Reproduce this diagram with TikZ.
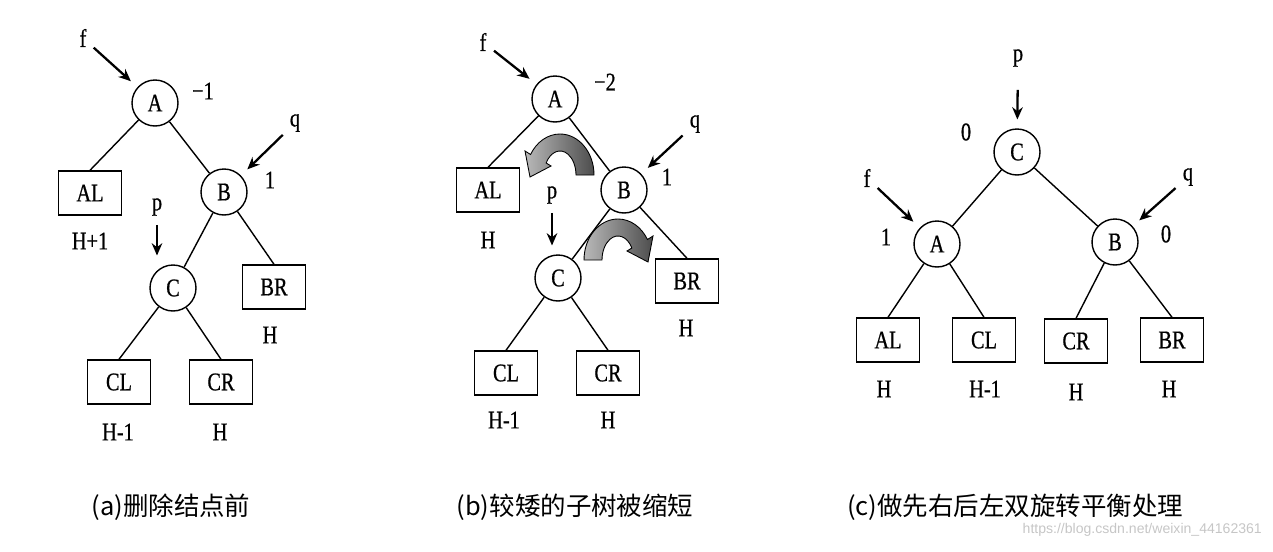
\documentclass[tikz,border=0pt]{standalone}
\usepackage{fontspec}
\setmainfont{Liberation Serif}[FakeStretch=0.8, FakeBold=0.6]
\newfontfamily\cjk{Noto Sans CJK SC}
\newfontfamily\wmfont{Liberation Sans}
\usetikzlibrary{arrows.meta}

\tikzset{
  circ/.style={draw, circle, line width=0.8pt, minimum size=0.92cm, inner sep=0pt},
  leaf/.style={draw, rectangle, line width=0.8pt, minimum width=1.26cm, minimum height=0.88cm, inner sep=0pt},
  lbl/.style={inner sep=1pt},
  link/.style={line width=0.8pt},
  ptr/.style={line width=1.3pt, -{Stealth[length=7pt,width=6pt]}, shorten <=4pt, shorten >=5pt},
  captext/.style={font=\cjk\fontsize{14.5pt}{17pt}\selectfont},
}

% grey rotation arrow: #1 centre, #2 xscale (1 = turns left, -1 = turns right)
\newcommand{\turnarrow}[2]{%
  \begin{scope}[shift={#1}, x=0.02cm, y=0.02cm, xscale=#2]
    \shade[left color=gray!55, right color=black!70, draw=black, line width=0.5pt]
      (34,0) arc[start angle=0, end angle=150, x radius=34, y radius=41]
      -- (-35,24) -- (-30,-2) -- (-9,9) -- (-13.86,12)
      arc[start angle=150, end angle=0, x radius=16, y radius=24] -- cycle;
  \end{scope}}

\begin{document}
\begin{tikzpicture}[x=0.02cm, y=-0.02cm, font=\fontsize{14.5pt}{16pt}\selectfont]
  \useasboundingbox (0,0) rectangle (1273,551);

  % (a)
  \node[circ] (aA) at (155,103) {A};
  \node[leaf] (aAL) at (90,193) {AL};
  \node[circ] (aB) at (224,192) {B};
  \node[circ] (aC) at (173,288) {C};
  \node[leaf] (aBR) at (274,287) {BR};
  \node[leaf] (aCL) at (119,382) {CL};
  \node[leaf] (aCR) at (221,382) {CR};

  \node[lbl] (af) at (83,38) {f};
  \node[lbl] (aq) at (295,123) {q};
  \node[lbl] (ap) at (157,207) {p};
  \node[lbl] (abA) at (203,91) {−1};
  \node[lbl] (abB) at (270,180) {1};
  \node[lbl] (ahAL) at (90,241) {H+1};
  \node[lbl] (ahBR) at (270,335) {H};
  \node[lbl] (ahCL) at (118,432) {H-1};
  \node[lbl] (ahCR) at (220,432) {H};

  \draw[link] (aA) -- (aAL.north);
  \draw[link] (aA) -- (aB);
  \draw[link] (aB) -- (aC);
  \draw[link] (aB) -- (aBR.north);
  \draw[link] (aC) -- (aCL.north);
  \draw[link] (aC) -- (aCR.north);

  \draw[ptr] (af) -- (aA);
  \draw[ptr] (aq) -- (aB);
  \draw[ptr] (ap) -- (ap |- aC.north);

  % (b)
  \node[circ] (bA) at (555,99) {A};
  \node[leaf] (bAL) at (488,190) {AL};
  \node[circ] (bB) at (624,190) {B};
  \node[circ] (bC) at (558,278) {C};
  \node[leaf] (bBR) at (687,281) {BR};
  \node[leaf] (bCL) at (506,373) {CL};
  \node[leaf] (bCR) at (608,373) {CR};

  \node[lbl] (bf) at (483,42) {f};
  \node[lbl] (bq) at (695,124) {q};
  \node[lbl] (bp) at (552,195) {p};
  \node[lbl] (bbA) at (605,82) {−2};
  \node[lbl] (bbB) at (667,177) {1};
  \node[lbl] (bhAL) at (488,240) {H};
  \node[lbl] (bhBR) at (686,328) {H};
  \node[lbl] (bhCL) at (504,420) {H-1};
  \node[lbl] (bhCR) at (608,420) {H};

  \draw[link] (bA) -- (bAL.north);
  \draw[link] (bA) -- (bB);
  \draw[link] (bB) -- (bC);
  \draw[link] (bB) -- (bBR.north);
  \draw[link] (bC) -- (bCL.north);
  \draw[link] (bC) -- (bCR.north);

  \draw[ptr] (bf) -- (bA);
  \draw[ptr] (bq) -- (bB);
  \draw[ptr] (bp) -- (bp |- bC.north);

  \turnarrow{(560,175)}{1}
  \turnarrow{(618,260)}{-1}

  % (c)
  \node[circ] (cC) at (1017,152) {C};
  \node[circ] (cA) at (937,244) {A};
  \node[circ] (cB) at (1115,242) {B};
  \node[leaf] (cAL) at (888,340) {AL};
  \node[leaf] (cCL) at (984,340) {CL};
  \node[leaf] (cCR) at (1076,341) {CR};
  \node[leaf] (cBR) at (1172,340) {BR};

  \node[lbl] (cp) at (1018,58) {p};
  \node[lbl] (cf) at (867,178) {f};
  \node[lbl] (cq) at (1188,177) {q};
  \node[lbl] (cbC) at (966,132) {0};
  \node[lbl] (cbA) at (886,237) {1};
  \node[lbl] (cbB) at (1166,234) {0};
  \node[lbl] (chAL) at (884,389) {H};
  \node[lbl] (chCL) at (985,389) {H-1};
  \node[lbl] (chCR) at (1076,392) {H};
  \node[lbl] (chBR) at (1169,389) {H};

  \draw[link] (cC) -- (cA);
  \draw[link] (cC) -- (cB);
  \draw[link] (cA) -- (cAL.north);
  \draw[link] (cA) -- (cCL.north);
  \draw[link] (cB) -- (cCR.north);
  \draw[link] (cB) -- (cBR.north);

  \draw[ptr, shorten <=12pt] (cp) -- (cC);
  \draw[ptr] (cf) -- (cA);
  \draw[ptr] (cq) -- (cB);

  % captions
  \node[captext] (capa) at (171,507) {(a)删除结点前};
  \node[captext] (capb) at (575,507) {(b)较矮的子树被缩短};
  \node[captext] (capc) at (1015,507) {(c)做先右后左双旋转平衡处理};
  \node[anchor=east, text=gray!45, font=\wmfont\fontsize{8pt}{9pt}\selectfont] (wm) at (1268,530) {https://blog.csdn.net/weixin\_44162361};
\end{tikzpicture}
\end{document}
